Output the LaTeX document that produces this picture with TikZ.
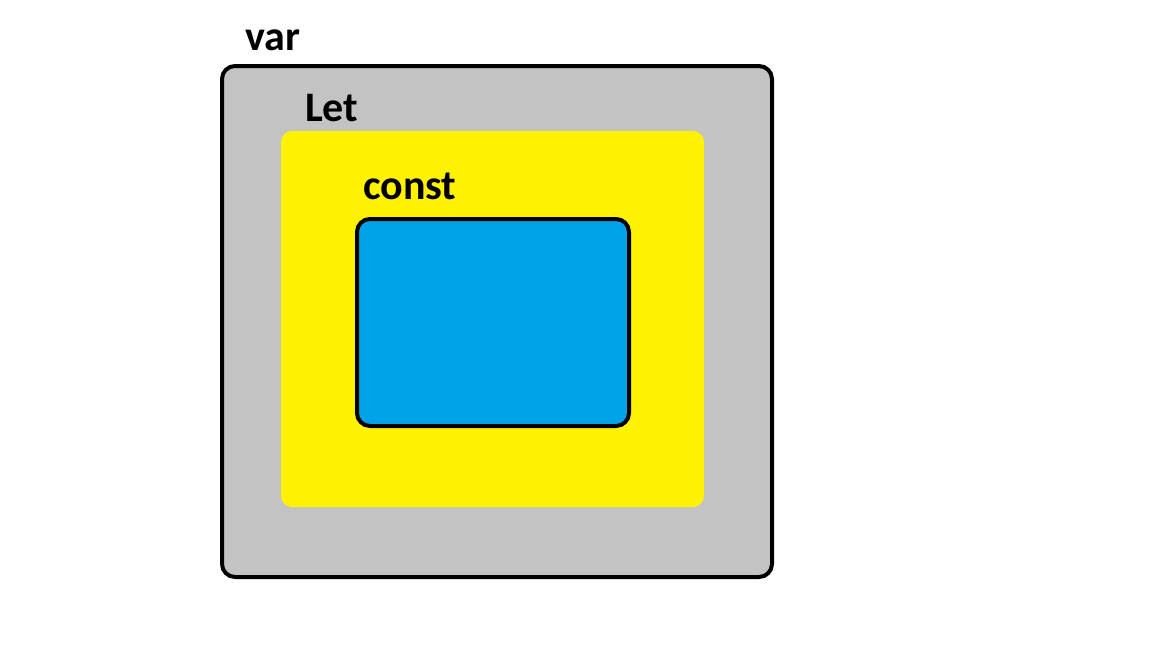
\documentclass[tikz,border=0pt]{standalone}
\usepackage{fontspec}
\setmainfont{Carlito}
\definecolor{boxgray}{HTML}{C3C3C3}
\definecolor{boxyellow}{HTML}{FFF200}
\definecolor{boxblue}{HTML}{00A2E8}
\begin{document}
\begin{tikzpicture}[x=1pt,y=-1pt,
  lbl/.style={anchor=base west,inner sep=0pt,font=\fontsize{42}{42}\selectfont\bfseries},
  outerbox/.style={draw=black,line width=4pt,fill=boxgray,rounded corners=13pt},
  midbox/.style={fill=boxyellow,rounded corners=11pt},
  innerbox/.style={draw=black,line width=4pt,fill=boxblue,rounded corners=13pt}]
\useasboundingbox (0,0) rectangle (1152,648);
\fill[white] (0,0) rectangle (1152,648);
\path[outerbox] (222,66) rectangle (772,577);
\path[midbox] (281,131) rectangle (704,507);
\path[innerbox] (357,219) rectangle (629,426);
\node[lbl] (var) at (245,50) {var};
\node[lbl] (let) at (305,121) {Let};
\node[lbl] (const) at (363,199) {const};
\end{tikzpicture}
\end{document}
